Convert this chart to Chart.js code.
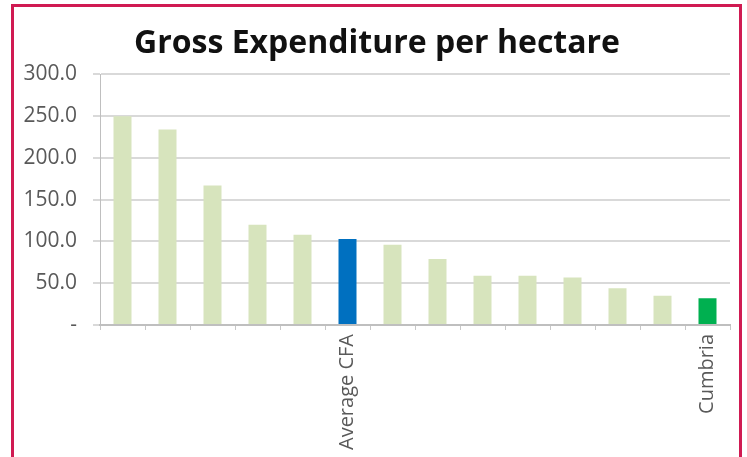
<!DOCTYPE html>
<html>
<head>
<meta charset="utf-8">
<script src="https://cdn.jsdelivr.net/npm/chart.js@4"></script>
<style>
  html, body { margin:0; padding:0; background:#fff; }
  body { width:747px; height:457px; position:relative; overflow:hidden; }
  .frame { position:absolute; left:11px; top:4px; width:731px; height:470px; border:3px solid #d01a52; box-sizing:border-box; }
  .wrap { position:absolute; left:0; top:0; width:747px; height:457px; }
</style>
</head>
<body>
<div class="frame"></div>
<div class="wrap"><canvas id="c"></canvas></div>
<script>
const labels = ['', '', '', '', '', 'Average CFA', '', '', '', '', '', '', '', 'Cumbria'];
const values = [250, 234, 167, 120, 108, 103, 96, 79, 59, 59, 57, 44, 35, 32];
const colors = ['#d7e4bd','#d7e4bd','#d7e4bd','#d7e4bd','#d7e4bd','#0070c0','#d7e4bd','#d7e4bd','#d7e4bd','#d7e4bd','#d7e4bd','#d7e4bd','#d7e4bd','#00b050'];
const yTicks = [0, 50, 100, 150, 200, 250, 300];

new Chart(document.getElementById('c'), {
  type: 'bar',
  data: {
    labels,
    datasets: [{ data: values, backgroundColor: colors, barPercentage: 0.4, categoryPercentage: 1 }]
  },
  options: {
    responsive: true,
    maintainAspectRatio: false,
    animation: false,
    layout: { padding: { left: 24, right: 17, top: 25, bottom: 0 } },
    plugins: {
      legend: { display: false },
      tooltip: { enabled: false },
      title: {
        display: true,
        text: 'Gross Expenditure per hectare',
        color: '#111',
        font: { family: 'Open Sans', size: 32, weight: 'bold' },
        padding: { top: 0, bottom: 11 }
      }
    },
    scales: {
      x: {
        grid: { display: true, drawOnChartArea: false, offset: true, tickLength: 5, color: '#c8c8c8', lineWidth: 1 },
        border: { color: '#bfbfbf', width: 2 },
        ticks: { autoSkip: false, minRotation: 90, maxRotation: 90, color: '#595959', padding: 4,
                 font: { family: 'Open Sans', size: 20 } },
        afterFit: s => { s.height = 132; }
      },
      y: {
        min: 0, max: 300,
        afterBuildTicks: s => { s.ticks = yTicks.map(v => ({ value: v })); },
        grid: { color: '#d9d9d9', lineWidth: 2, tickLength: 7 },
        border: { color: '#bfbfbf', width: 1 },
        ticks: { color: '#595959', padding: 16, font: { family: 'Open Sans', size: 21 },
                 callback: v => v === 0 ? '-' : v.toFixed(1) },
        afterFit: s => { s.width = 76; }
      }
    }
  }
});
</script>
</body>
</html>
